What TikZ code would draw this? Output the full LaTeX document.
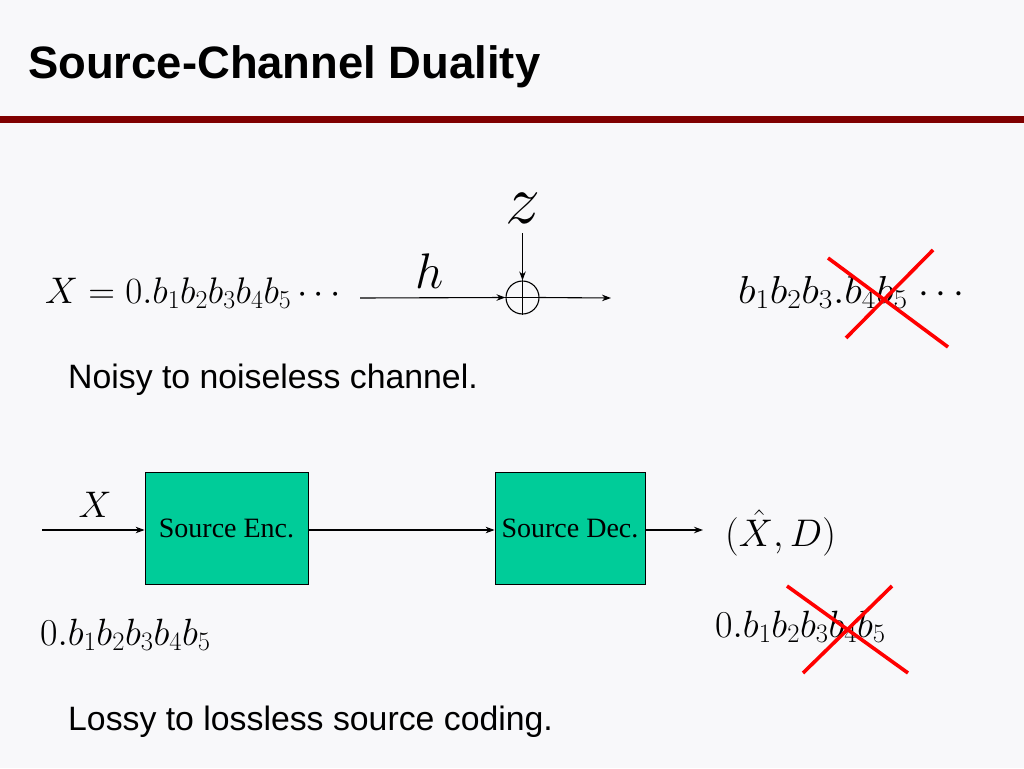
\RequirePackage{fix-cm}
\documentclass[tikz,border=0pt]{standalone}
\usepackage{fontspec}
\setmainfont{Liberation Serif}
\newfontfamily\arialf{Liberation Sans}
\usetikzlibrary{arrows.meta}
\definecolor{bgc}{HTML}{F8F8FA}
\definecolor{barred}{HTML}{800000}
\definecolor{boxgreen}{HTML}{00CC99}
\definecolor{xred}{HTML}{FF0000}
\newcommand{\fs}[1]{\fontsize{#1}{#1}\selectfont}
\begin{document}
\begin{tikzpicture}[x=1pt,y=-1pt,
  conn/.style={line width=1.1pt,-{Stealth[length=9pt,width=6.5pt]}},
  blk/.style={draw=black,line width=0.8pt,fill=boxgreen,minimum width=163pt,minimum height=112pt,inner sep=0pt,font=\fs{28}},
  mathlbl/.style={inner sep=0pt,anchor=base west},
  bodytxt/.style={inner sep=0pt,anchor=base west,font=\arialf\fs{33.8}},
  cross/.style={draw=xred,line width=3.6pt},
]
\useasboundingbox[fill=bgc] (0,0) rectangle (1024,768);
% title and bar
\node[inner sep=0pt,anchor=base west,font=\arialf\bfseries\fs{45.4}] (title) at (28,78) {Source-Channel Duality};
\fill[barred] (0,116) rectangle (1024,123);
% top row
\node[mathlbl,font=\fs{37}] (xeq) at (45,303) {$X=0.b_1b_2b_3b_4b_5\cdots$};
\coordinate (cin) at (360,298);
\node[draw,circle,line width=1.1pt,minimum size=33pt,inner sep=0pt] (sum) at (522.5,297.5) {};
\draw[line width=1.1pt] (sum.north) -- (sum.south) (sum.west) -- (sum.east);
\node[inner sep=0pt,anchor=base,font=\fs{70}] (z) at (522.5,223) {$z$};
\node[inner sep=0pt,anchor=base,font=\fs{50}] (h) at (430,288) {$h$};
\coordinate (zt) at (522.5,233);
\coordinate (cout) at (611,298);
\draw[conn] (cin) -- (sum.west);
\draw[conn] (zt) -- (sum.north);
\draw[conn] (sum.east) -- (cout);
\node[mathlbl,font=\fs{39}] (bout) at (738,303) {\scalebox{1.08}[1]{$b_1b_2b_3.b_4b_5$}$\;\cdots$};
\coordinate (x1a) at (828,258); \coordinate (x1b) at (948,347);
\coordinate (x2a) at (933,250); \coordinate (x2b) at (846,338);
\draw[cross] (x1a) -- (x1b);
\draw[cross] (x2a) -- (x2b);
\node[bodytxt] (noisy) at (68,388) {Noisy to noiseless channel.};
% bottom row
\node[blk] (enc) at (226.5,528) {Source Enc.};
\node[blk,minimum width=150pt] (dec) at (570,528) {Source Dec.};
\coordinate (xin) at (42,530);
\coordinate (dout) at (703,530);
\draw[conn] (xin) -- (enc.west |- xin);
\draw[conn] (enc.east |- xin) -- (dec.west |- xin);
\draw[conn] (dec.east |- xin) -- (dout);
\node[inner sep=0pt,anchor=base,font=\fs{37}] (xlab) at (95,517) {$X$};
\node[mathlbl,font=\fs{38.5}] (xhat) at (725,546) {$(\hat X,D)$};
\node[mathlbl,font=\fs{38}] (bl) at (40,645) {$0.b_1b_2b_3b_4b_5$};
\node[mathlbl,font=\fs{38}] (br) at (715,637) {$0.b_1b_2b_3b_4b_5$};
\coordinate (x3a) at (787,586); \coordinate (x3b) at (908,673);
\coordinate (x4a) at (892,586); \coordinate (x4b) at (803,673);
\draw[cross] (x3a) -- (x3b);
\draw[cross] (x4a) -- (x4b);
\node[bodytxt] (lossy) at (68,730) {Lossy to lossless source coding.};
\end{tikzpicture}
\end{document}
